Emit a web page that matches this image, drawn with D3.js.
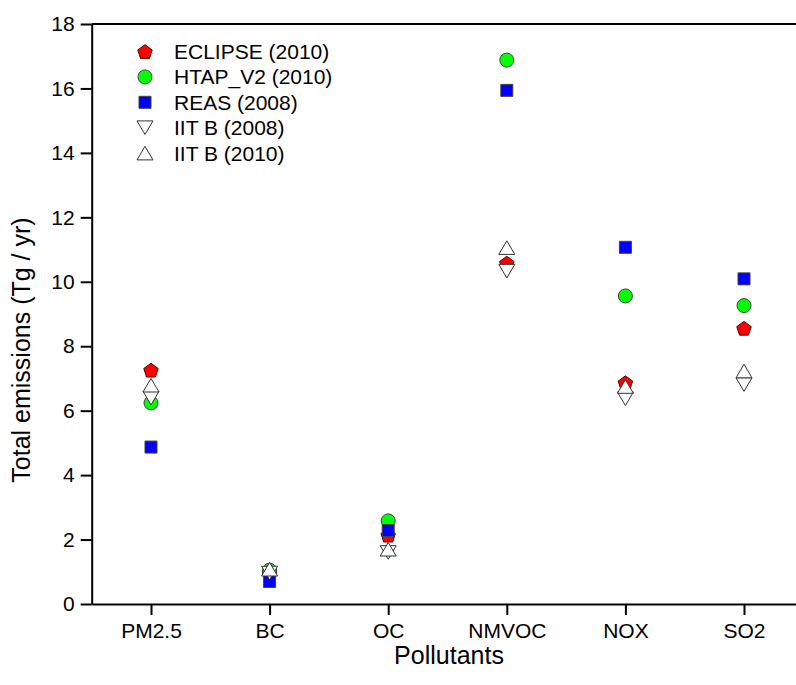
<!DOCTYPE html>
<html>
<head>
<meta charset="utf-8">
<script src="https://cdn.jsdelivr.net/npm/d3@7"></script>
<style>
  body { margin: 0; background: #fff; }
  svg { display: block; font-family: "Liberation Sans", Arial, sans-serif; }
</style>
</head>
<body>
<div id="chart"></div>
<script>
// values (Tg / yr)
const categories = ["PM2.5", "BC", "OC", "NMVOC", "NOX", "SO2"];
const eclipse2010 = [7.26, 0.95, 2.14, 10.58, 6.87, 8.56];
const htapV2_2010 = [6.24, 1.05, 2.58, 16.88, 9.56, 9.26];
const reas2008 = [4.87, 0.70, 2.28, 15.94, 11.07, 10.09];
const iitb2008 = [6.39, 0.96, 1.60, 10.33, 6.37, 6.81];
const iitb2010 = [6.79, 1.08, 1.70, 11.06, 6.75, 7.23];
const yTickValues = [0, 2, 4, 6, 8, 10, 12, 14, 16, 18];

const width = 796, height = 685;
const plotLeft = 91.7, plotRight = 803.3, plotTop = 24, plotBottom = 604;

const svg = d3.select("#chart").append("svg")
  .attr("width", width).attr("height", height);

const x = d3.scalePoint().domain(categories).range([plotLeft, plotRight]).padding(0.5);
const y = d3.scaleLinear().domain([0, 18]).range([plotBottom, plotTop]);

// marker shapes
const shapes = {
  pentagon: (r) => {
    const p = d3.path();
    for (let i = 0; i < 5; i++) {
      const a = -Math.PI / 2 + i * 2 * Math.PI / 5;
      const px = r * Math.cos(a), py = r * Math.sin(a) + 0.8;
      i ? p.lineTo(px, py) : p.moveTo(px, py);
    }
    p.closePath();
    return p.toString();
  },
  circle: (r) => {
    const p = d3.path();
    p.arc(0, 0, r, 0, 2 * Math.PI);
    return p.toString();
  },
  square: (r) => `M${-r},${-r}H${r}V${r}H${-r}Z`,
  down: (r) => `M${-r},${-r * 0.85}H${r}L0,${r * 0.85}Z`,
  up: (r) => `M${-r},${r * 0.85}H${r}L0,${-r * 0.85}Z`
};

const series = [
  { name: "ECLIPSE (2010)", values: eclipse2010, shape: "pentagon", r: 7.6, fill: "#ff0000", stroke: "#550000" },
  { name: "HTAP_V2 (2010)", values: htapV2_2010, shape: "circle", r: 7, fill: "#00ff00", stroke: "#404040" },
  { name: "REAS (2008)", values: reas2008, shape: "square", r: 6, fill: "#0000ff", stroke: "#404040" },
  { name: "IIT B (2008)", values: iitb2008, shape: "down", r: 8, fill: "#ffffff", stroke: "#333333" },
  { name: "IIT B (2010)", values: iitb2010, shape: "up", r: 8, fill: "#ffffff", stroke: "#333333" }
];

// axes
const yAxis = svg.append("g")
  .attr("transform", `translate(${plotLeft},0)`)
  .call(d3.axisLeft(y).tickValues(yTickValues).tickSize(11).tickPadding(6).tickSizeOuter(0));
const xAxis = svg.append("g")
  .attr("transform", `translate(0,${plotBottom})`)
  .call(d3.axisBottom(x).tickSize(11).tickPadding(8).tickSizeOuter(0));

[yAxis, xAxis].forEach(g => {
  g.select(".domain").attr("stroke", "#000").attr("stroke-width", 2);
  g.selectAll(".tick line").attr("stroke", "#000").attr("stroke-width", 2);
  g.selectAll(".tick text").attr("fill", "#000").style("font-size", "21px")
    .style("font-family", "'Liberation Sans', Arial, sans-serif");
});

// top frame line
svg.append("line")
  .attr("x1", plotLeft).attr("x2", plotRight)
  .attr("y1", plotTop).attr("y2", plotTop)
  .attr("stroke", "#000").attr("stroke-width", 2);

// points
series.forEach(s => {
  svg.append("g").selectAll("path")
    .data(s.values)
    .join("path")
    .attr("transform", (d, i) => `translate(${x(categories[i])},${y(d)})`)
    .attr("d", shapes[s.shape](s.r))
    .attr("fill", s.fill)
    .attr("stroke", s.stroke)
    .attr("stroke-width", 1);
});

// legend
const legend = svg.append("g").attr("transform", "translate(145,51.5)");
series.forEach((s, i) => {
  const row = legend.append("g").attr("transform", `translate(0,${i * 25.4})`);
  row.append("path")
    .attr("d", shapes[s.shape](s.r))
    .attr("fill", s.fill)
    .attr("stroke", s.stroke)
    .attr("stroke-width", 1);
  row.append("text")
    .attr("x", 29).attr("y", 0).attr("dy", "0.36em")
    .style("font-size", "21px")
    .attr("fill", "#000")
    .text(s.name);
});

// axis titles
svg.append("text")
  .attr("transform", "translate(30,350) rotate(-90)")
  .attr("text-anchor", "middle")
  .style("font-size", "25px")
  .text("Total emissions (Tg / yr)");
svg.append("text")
  .attr("x", 449).attr("y", 664)
  .attr("text-anchor", "middle")
  .style("font-size", "25px")
  .text("Pollutants");
</script>
</body>
</html>
